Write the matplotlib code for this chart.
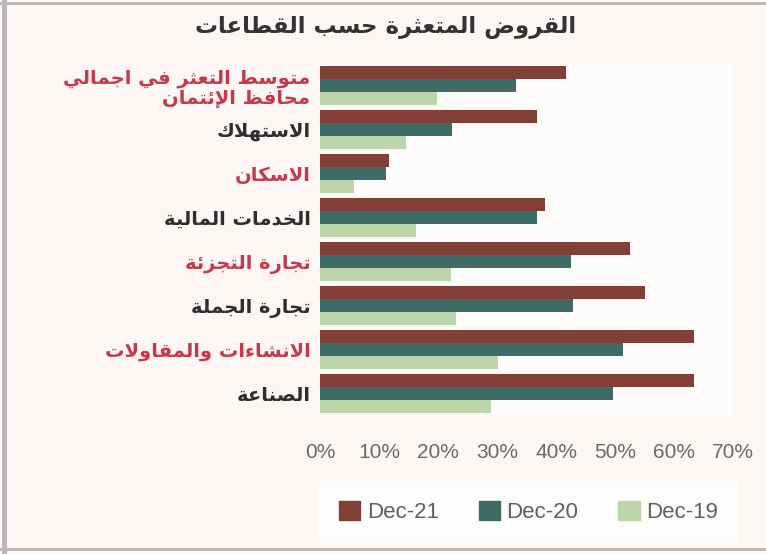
import numpy as np
import matplotlib
matplotlib.use("Agg")
import matplotlib.pyplot as plt
from matplotlib.patches import Patch, Rectangle

# data (share of non-performing loans, %)
sectors = [
    "متوسط التعثر في اجمالي\nمحافظ الإئتمان",
    "الاستهلاك",
    "الاسكان",
    "الخدمات المالية",
    "تجارة التجزئة",
    "تجارة الجملة",
    "الانشاءات والمقاولات",
    "الصناعة",
]
dec21 = [41.7, 36.8, 11.7, 38.2, 52.5, 55.0, 63.3, 63.3]
dec20 = [33.2, 22.4, 11.1, 36.7, 42.6, 42.8, 51.3, 49.6]
dec19 = [19.8, 14.5, 5.8, 16.2, 22.2, 23.1, 30.2, 28.9]
series_names = ["Dec-21", "Dec-20", "Dec-19"]
ticks = [0, 10, 20, 30, 40, 50, 60, 70]
title = "القروض المتعثرة حسب القطاعات"

colors = ["#823f36", "#3f6b66", "#bcd5aa"]
label_colors = ["#c23a4c", "#2e2e2e"]

# --- minimal arabic shaping (matplotlib has no bidi / joining support) ---
# letter: (first presentation form code, number of forms)
_forms = {
    "ء": (0xFE80, 1), "آ": (0xFE81, 2), "أ": (0xFE83, 2), "ؤ": (0xFE85, 2),
    "إ": (0xFE87, 2), "ئ": (0xFE89, 4), "ا": (0xFE8D, 2), "ب": (0xFE8F, 4),
    "ة": (0xFE93, 2), "ت": (0xFE95, 4), "ث": (0xFE99, 4), "ج": (0xFE9D, 4),
    "ح": (0xFEA1, 4), "خ": (0xFEA5, 4), "د": (0xFEA9, 2), "ذ": (0xFEAB, 2),
    "ر": (0xFEAD, 2), "ز": (0xFEAF, 2), "س": (0xFEB1, 4), "ش": (0xFEB5, 4),
    "ص": (0xFEB9, 4), "ض": (0xFEBD, 4), "ط": (0xFEC1, 4), "ظ": (0xFEC5, 4),
    "ع": (0xFEC9, 4), "غ": (0xFECD, 4), "ف": (0xFED1, 4), "ق": (0xFED5, 4),
    "ك": (0xFED9, 4), "ل": (0xFEDD, 4), "م": (0xFEE1, 4), "ن": (0xFEE5, 4),
    "ه": (0xFEE9, 4), "و": (0xFEED, 2), "ى": (0xFEEF, 2), "ي": (0xFEF1, 4),
}
_lam_alef = {"ا": 0xFEFB, "أ": 0xFEF7, "إ": 0xFEF9, "آ": 0xFEF5}


def shape_line(text):
    out = []
    i = 0
    prev_joins = False
    while i < len(text):
        ch = text[i]
        nxt = text[i + 1] if i + 1 < len(text) else ""
        if ch not in _forms:
            out.append(ch)
            prev_joins = False
            i += 1
            continue
        if ch == "ل" and nxt in _lam_alef:
            out.append(chr(_lam_alef[nxt] + (1 if prev_joins else 0)))
            prev_joins = False
            i += 2
            continue
        base, n = _forms[ch]
        joins_next = n == 4 and nxt in _forms
        if n == 1:
            code = base
        elif prev_joins and joins_next:
            code = base + 3
        elif prev_joins:
            code = base + 1
        elif joins_next:
            code = base + 2
        else:
            code = base
        out.append(chr(code))
        prev_joins = joins_next
        i += 1
    return "".join(out)[::-1]


def ar(text):
    return "\n".join(shape_line(t) for t in text.split("\n"))


def main():
    plt.rcParams["font.family"] = ["DejaVu Sans"]
    bg = "#fcf6f5"
    fig = plt.figure(figsize=(7.66, 5.54), dpi=100, facecolor=bg)
    ax = fig.add_axes([0.418, 0.25, 0.539, 0.635])
    ax.set_facecolor("#fefbfb")

    y = np.arange(len(sectors))
    h = 0.295
    for k, vals in enumerate([dec21, dec20, dec19]):
        ax.barh(y + (k - 1) * h, vals, height=h, color=colors[k],
                label=series_names[k])

    ax.set_xlim(0, 70)
    ax.set_ylim(len(sectors) - 0.5, -0.5)
    ax.set_xticks(ticks)
    ax.set_xticklabels([f"{t}%" for t in ticks], family="Liberation Sans",
                       fontsize=15, color="#6a6a6a")
    ax.tick_params(axis="x", length=0, pad=20)
    ax.set_yticks(y)
    ax.set_yticklabels([ar(s) for s in sectors], fontsize=14,
                       fontweight="bold", linespacing=1.05)
    for i, lab in enumerate(ax.get_yticklabels()):
        lab.set_color(label_colors[i % 2])
    ax.tick_params(axis="y", length=0, pad=7)
    for s in ax.spines.values():
        s.set_visible(False)

    fig.text(0.503, 0.95, ar(title), ha="center", va="center",
             fontsize=16.5, fontweight="bold", color="#333333")

    handles = [Patch(color=c) for c in colors]
    leg = fig.legend(handles, series_names, loc="center", ncol=3,
                     bbox_to_anchor=(0.69, 0.076), frameon=True,
                     prop={"family": "Liberation Sans", "size": 16},
                     handlelength=0.95, handleheight=0.95, columnspacing=1.8,
                     handletextpad=0.3, borderpad=0.9)
    leg.get_frame().set_facecolor("#fffefe")
    leg.get_frame().set_edgecolor("none")
    leg.get_frame().set_boxstyle("square", pad=0.0)
    for t in leg.get_texts():
        t.set_color("#5f5f5f")

    # screenshot frame lines (top, left, bottom)
    for rect in [(0, 0.991, 1, 0.006), (0.003, 0, 0.006, 1), (0, 0.005, 1, 0.006)]:
        fig.add_artist(Rectangle(rect[:2], rect[2], rect[3], transform=fig.transFigure,
                                 color="#b9b9b9", lw=0))

    fig.savefig("out.png", dpi=100, facecolor=fig.get_facecolor())


if __name__ == "__main__":
    main()
